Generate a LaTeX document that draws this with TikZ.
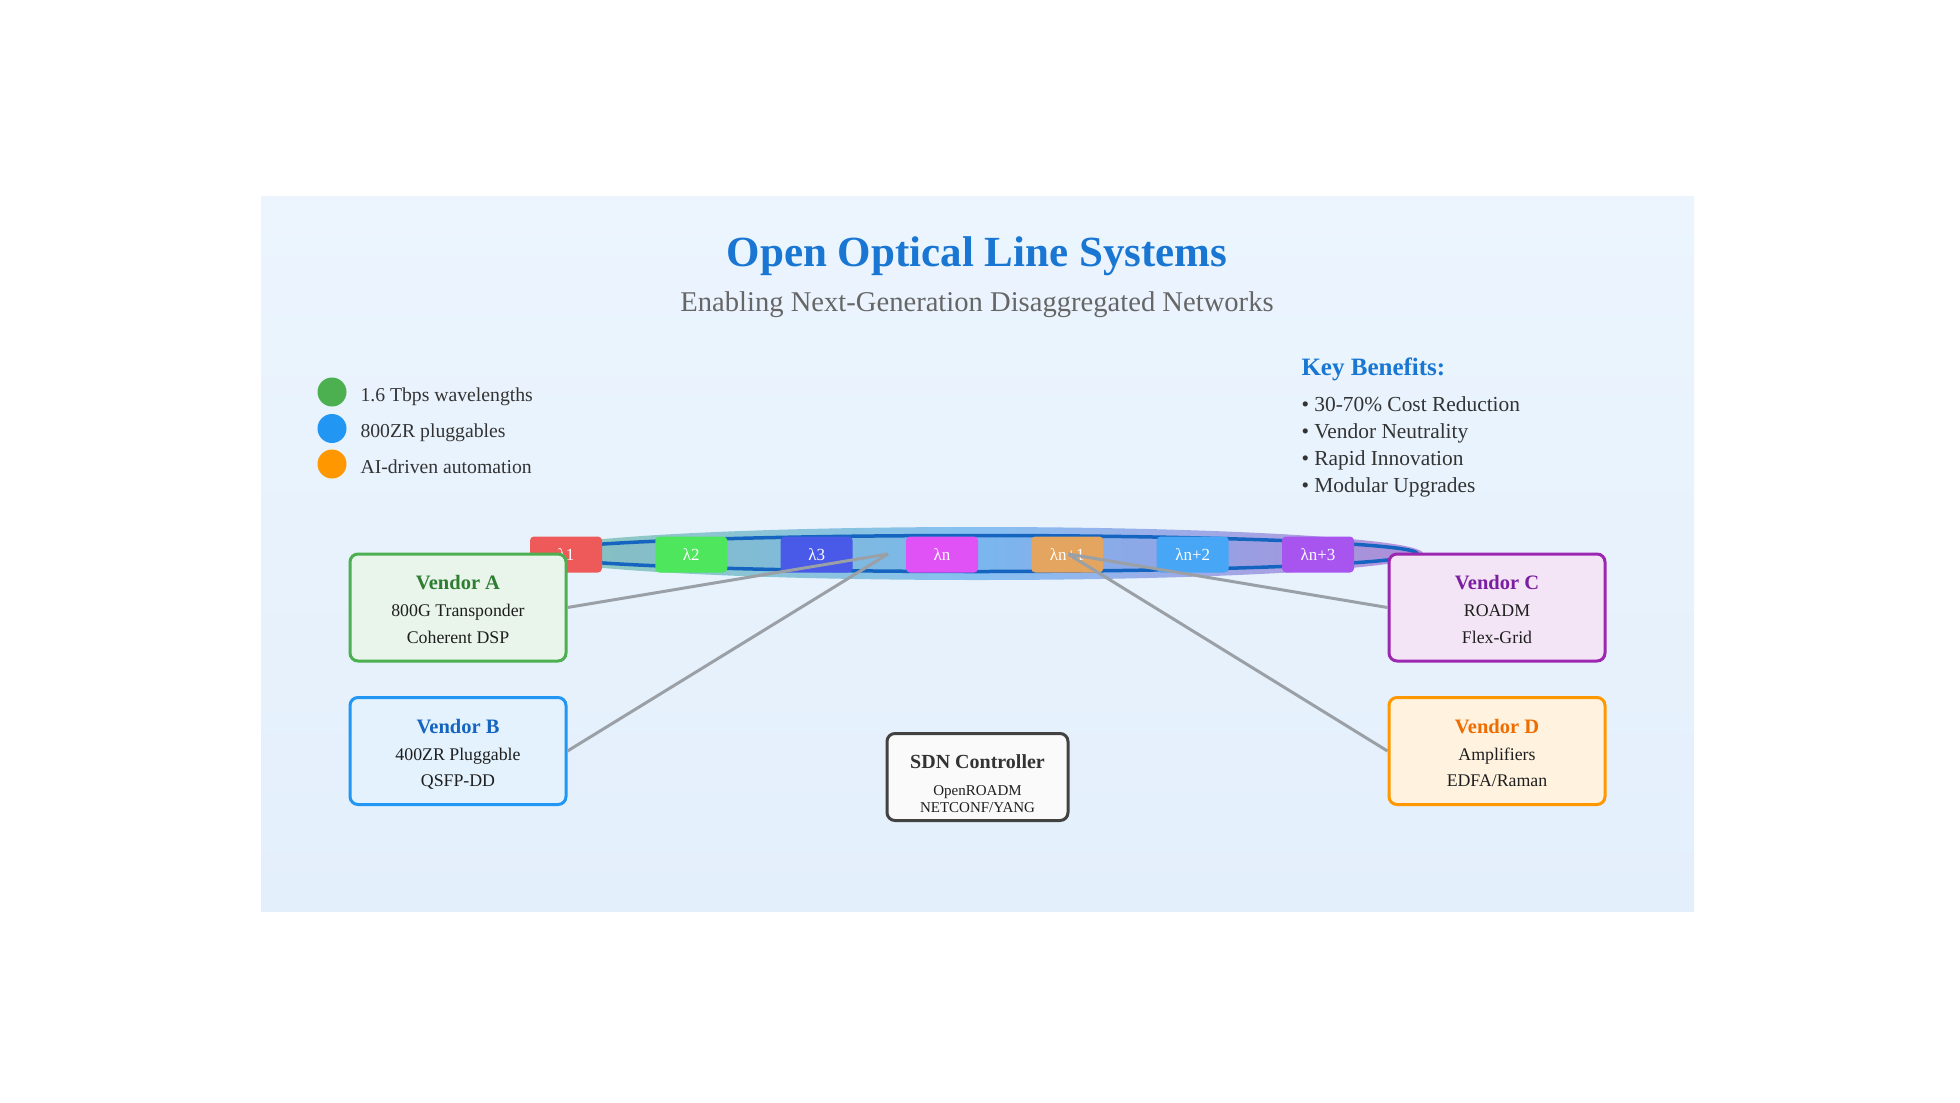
\documentclass[tikz,border=0pt]{standalone}
\usepackage{fontspec}
\setmainfont{Liberation Serif}
\usepackage{tikz}
\usetikzlibrary{positioning}

\definecolor{panelTop}{HTML}{ECF5FE}
\definecolor{panelBot}{HTML}{E3EFFB}
\definecolor{titleblue}{HTML}{1976D2}
\definecolor{subgray}{HTML}{666666}
\definecolor{txtgray}{HTML}{333333}
\definecolor{txtdark}{HTML}{1E1E1E}
\definecolor{fiberline}{HTML}{1565C0}
\definecolor{bandL}{HTML}{8FC9B9}
\definecolor{bandM}{HTML}{86C0F2}
\definecolor{bandR}{HTML}{B892DB}
\definecolor{coreL}{HTML}{88C0BC}
\definecolor{coreM}{HTML}{7AB7EF}
\definecolor{coreR}{HTML}{AE8ED8}
\definecolor{linkgray}{HTML}{9AA0A6}
\definecolor{dotgreen}{HTML}{4CAF50}
\definecolor{dotblue}{HTML}{2196F3}
\definecolor{dotorange}{HTML}{FF9800}
\definecolor{lamA}{HTML}{EE5A5A}
\definecolor{lamB}{HTML}{4DE65C}
\definecolor{lamC}{HTML}{4A5AE8}
\definecolor{lamD}{HTML}{E052F5}
\definecolor{lamE}{HTML}{E4A560}
\definecolor{lamF}{HTML}{47A6F5}
\definecolor{lamG}{HTML}{A855F0}
\definecolor{aBorder}{HTML}{4CAF50}
\definecolor{aFill}{HTML}{E9F5EA}
\definecolor{aTitle}{HTML}{2E7D32}
\definecolor{bBorder}{HTML}{2196F3}
\definecolor{bFill}{HTML}{E3F2FD}
\definecolor{bTitle}{HTML}{1565C0}
\definecolor{cBorder}{HTML}{9C27B0}
\definecolor{cFill}{HTML}{F3E5F5}
\definecolor{cTitle}{HTML}{7B1FA2}
\definecolor{dBorder}{HTML}{FF9800}
\definecolor{dFill}{HTML}{FFF3E0}
\definecolor{dTitle}{HTML}{EF6C00}
\definecolor{sdnBorder}{HTML}{424242}
\definecolor{sdnFill}{HTML}{FAFAFA}

\begin{document}
\begin{tikzpicture}[x=1pt, y=-1pt,
		vendor/.style={draw, line width=3pt, rounded corners=8pt, minimum width=216pt, minimum height=107pt, inner sep=0pt},
		vtitle/.style={anchor=base, font=\fontsize{20.5}{24}\selectfont\bfseries},
		vtext/.style={anchor=base, font=\fontsize{17.8}{21}\selectfont, text=txtdark},
		lam/.style={rounded corners=4pt, minimum width=72pt, minimum height=36pt, inner sep=0pt, text=white, font=\fontsize{17}{20}\selectfont},
		link/.style={draw=linkgray, line width=3pt},
		dot/.style={circle, minimum size=29pt, inner sep=0pt},
		legend/.style={anchor=base west, font=\fontsize{19.7}{23}\selectfont, text=txtgray},
		benefit/.style={anchor=base west, font=\fontsize{21.4}{25}\selectfont, text=txtgray}]
			\useasboundingbox (0,0) rectangle (1960,1103);
			\fill[white] (0,0) rectangle (1960,1103);
			\shade[top color=panelTop, bottom color=panelBot] (261,196) rectangle (1694,911);
		
			\node[anchor=base, font=\fontsize{43}{51}\selectfont\bfseries, text=titleblue] (title) at (977,266) {Open Optical Line Systems};
			\node[anchor=base, font=\fontsize{28.6}{34}\selectfont, text=subgray] (subtitle) at (977,311) {Enabling Next-Generation Disaggregated Networks};
		
			\node[dot, fill=dotgreen] (d1) at (332,392) {};
			\node[dot, fill=dotblue] (d2) at (332,428.5) {};
			\node[dot, fill=dotorange] (d3) at (332,464) {};
			\node[legend] (t1) at (357,401) {1.6 Tbps wavelengths};
			\node[legend] (t2) at (357,437.5) {800ZR pluggables};
			\node[legend] (t3) at (357,473) {AI-driven automation};
		
			\node[anchor=base west, font=\fontsize{25}{30}\selectfont\bfseries, text=titleblue] (kb) at (1298,375) {Key Benefits:};
			\node[benefit] (b1) at (1298,411) {• 30-70\% Cost Reduction};
			\node[benefit] (b2) at (1298,438) {• Vendor Neutrality};
			\node[benefit] (b3) at (1298,465) {• Rapid Innovation};
			\node[benefit] (b4) at (1298,492) {• Modular Upgrades};
		
			\shade[left color=bandL, right color=bandR, middle color=bandM] (977,553.5) ellipse [x radius=446pt, y radius=26.5pt];
			\shade[left color=coreL, right color=coreR, middle color=coreM] (977,553.5) ellipse [x radius=440pt, y radius=18pt];
			\draw[fiberline, line width=3.5pt] (977,553.5) ellipse [x radius=440pt, y radius=18pt];
		
			\node[lam, fill=lamA] (l1) at (566,554.5) {λ1};
			\node[lam, fill=lamB] (l2) at (691.3,554.5) {λ2};
			\node[lam, fill=lamC] (l3) at (816.7,554.5) {λ3};
			\node[lam, fill=lamD] (l4) at (942,554.5) {λn};
			\node[lam, fill=lamE] (l5) at (1067.3,554.5) {λn+1};
			\node[lam, fill=lamF] (l6) at (1192.7,554.5) {λn+2};
			\node[lam, fill=lamG] (l7) at (1318,554.5) {λn+3};
		
			\coordinate (hubL) at (888,554);
			\coordinate (hubR) at (1068,554);
		
			\node[vendor, draw=aBorder, fill=aFill] (vA) at (458,607.5) {};
			\node[vendor, draw=bBorder, fill=bFill] (vB) at (458,751) {};
			\node[vendor, draw=cBorder, fill=cFill] (vC) at (1497,607.5) {};
			\node[vendor, draw=dBorder, fill=dFill] (vD) at (1497,751) {};
		
			\path[link] (vA.east) -- (hubL);
			\path[link] (vB.east) -- (hubL);
			\path[link] (vC.west) -- (hubR);
			\path[link] (vD.west) -- (hubR);
		
			\node[vtitle, text=aTitle] at (458,589.5) {Vendor A};
			\node[vtext] at (458,616.5) {800G Transponder};
			\node[vtext] at (458,643) {Coherent DSP};
			\node[vtitle, text=bTitle] at (458,733) {Vendor B};
			\node[vtext] at (458,760) {400ZR Pluggable};
			\node[vtext] at (458,786.5) {QSFP-DD};
			\node[vtitle, text=cTitle] at (1497,589.5) {Vendor C};
			\node[vtext] at (1497,616.5) {ROADM};
			\node[vtext] at (1497,643) {Flex-Grid};
			\node[vtitle, text=dTitle] at (1497,733) {Vendor D};
			\node[vtext] at (1497,760) {Amplifiers};
			\node[vtext] at (1497,786.5) {EDFA/Raman};
		
			\node[draw=sdnBorder, fill=sdnFill, line width=3pt, rounded corners=8pt, minimum width=181pt, minimum height=87pt] (sdn) at (977.5,777) {};
			\node[vtitle, text=txtgray, font=\fontsize{20}{24}\selectfont\bfseries] at (977.5,768) {SDN Controller};
			\node[vtext, font=\fontsize{15}{18}\selectfont] at (977.5,795.5) {OpenROADM};
			\node[vtext, font=\fontsize{15}{18}\selectfont] at (977.5,812) {NETCONF/YANG};
		\end{tikzpicture}
\end{document}
